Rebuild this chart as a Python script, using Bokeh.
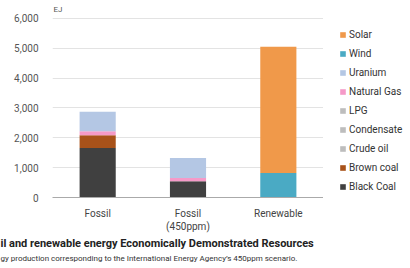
from bokeh.plotting import figure
from bokeh.layouts import row
from bokeh.models import (Legend, LegendItem, Label, NumeralTickFormatter, Title,
                          FixedTicker, Range1d, FactorRange, ColumnDataSource)
from bokeh.embed import file_html
from bokeh.resources import INLINE

categories = ["Fossil", "Fossil\n(450ppm)", "Renewable"]
black_coal = [1660, 545, 0]
brown_coal = [425, 0, 0]
crude_oil = [0, 0, 0]
condensate = [0, 0, 0]
lpg = [0, 0, 0]
natural_gas = [135, 110, 0]
uranium = [650, 670, 0]
wind = [0, 0, 825]
solar = [0, 0, 4230]

series = ["Black Coal", "Brown coal", "Crude oil", "Condensate", "LPG",
          "Natural Gas", "Uranium", "Wind", "Solar"]
colors = ["#404040", "#a8521a", "#bdbdbd", "#bdbdbd", "#bdbdbd",
          "#f59ac8", "#b4c7e4", "#4aaac4", "#f0994a"]
y_ticks = [0, 1000, 2000, 3000, 4000, 5000, 6000]

source = ColumnDataSource(dict(cat=categories, **{
    "Black Coal": black_coal, "Brown coal": brown_coal, "Crude oil": crude_oil,
    "Condensate": condensate, "LPG": lpg, "Natural Gas": natural_gas,
    "Uranium": uranium, "Wind": wind, "Solar": solar}))

FONT = "Roboto"

p = figure(x_range=FactorRange(*categories), y_range=Range1d(0, 6500),
           width=323, height=268, output_backend="svg", toolbar_location=None,
           min_border_left=52, min_border_right=0, min_border_top=3,
           min_border_bottom=71)
p.outline_line_color = None

rs = p.vbar_stack(series, x="cat", width=0.4, source=source, color=colors,
                  line_color=None)

p.yaxis.ticker = FixedTicker(ticks=y_ticks)
p.yaxis.formatter = NumeralTickFormatter(format="0,0")
p.yaxis.axis_line_color = None
p.yaxis.major_tick_line_color = None
p.yaxis.minor_tick_line_color = None
p.yaxis.major_label_standoff = 8
p.yaxis.major_label_text_font_size = "10px"
p.yaxis.major_label_text_color = "#555555"
p.yaxis.major_label_text_font = FONT

p.xaxis.axis_line_color = "#aaaaaa"
p.xaxis.major_tick_line_color = None
p.xaxis.minor_tick_line_color = None
p.xaxis.major_label_standoff = 4
p.xaxis.major_label_text_font_size = "10px"
p.xaxis.major_label_text_color = "#444444"
p.xaxis.major_label_text_font = FONT

p.xgrid.grid_line_color = None
p.ygrid.ticker = FixedTicker(ticks=y_ticks)
p.ygrid.grid_line_color = "#e3e3e3"

p.add_layout(Label(x=1, y=6300, x_units="screen", y_units="data", text="EJ",
                   text_font_size="8px", text_color="#555555", text_font=FONT,
                   text_baseline="middle"))

p.add_layout(Title(text="il and renewable energy Economically Demonstrated Resources",
                   text_font_size="11px", text_font_style="bold", text_color="#222222",
                   text_font=FONT, align="left", offset=-52, standoff=1), "below")
p.add_layout(Title(text="gy production corresponding to the International Energy Agency\u2019s 450ppm scenario.",
                   text_font_size="8px", text_font_style="normal", text_color="#333333",
                   text_font=FONT, align="left", offset=-52, standoff=2), "below")

# legend panel to the right of the chart (its zero-width bars lie outside its view)
pl = figure(width=87, height=268, output_backend="svg", toolbar_location=None,
            min_border=0, x_range=FactorRange(*categories),
            y_range=Range1d(1e7, 2e7))
pl.outline_line_color = None
pl.axis.visible = False
pl.grid.visible = False
lr = pl.vbar_stack(series, x="cat", width=0.0, source=source, color=colors,
                   line_color=None)
items = [LegendItem(label=s, renderers=[r]) for s, r in zip(series, lr)][::-1]
legend = Legend(items=items, location=(16, 4), glyph_width=7, glyph_height=7,
                label_text_font_size="10px", label_text_color="#333333",
                label_text_font=FONT, label_height=14, spacing=5, padding=0,
                margin=0, border_line_color=None, background_fill_alpha=0,
                label_standoff=3)
pl.add_layout(legend)

layout = row(p, pl)
open("out.html", "w").write(file_html(layout, INLINE))
